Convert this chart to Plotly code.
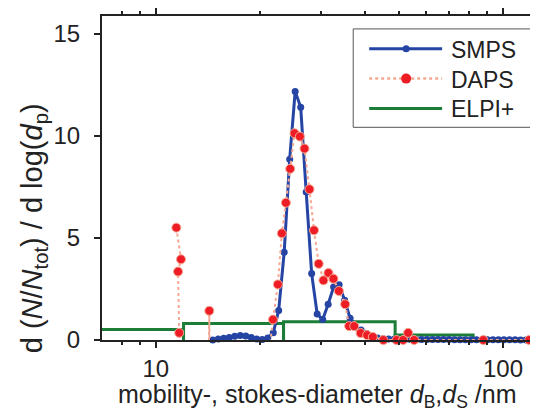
import plotly.graph_objects as go

# ---------------- data ----------------
smps_d = [14.59, 15.13, 15.69, 16.27, 16.88, 17.51, 18.16, 18.83, 19.53, 20.26,
          21.01, 21.79, 22.59, 23.43, 24.30, 25.20, 26.14, 27.11, 28.11, 29.16,
          30.24, 31.36, 32.52, 33.73, 34.98, 36.28, 37.62, 39.02, 40.47, 41.97,
          43.52, 45.14, 46.81, 48.55, 50.35, 52.22, 54.16, 56.17, 58.25, 60.41,
          62.65, 64.98, 67.39, 69.89, 72.48, 75.17, 77.96, 80.85, 83.85, 86.96,
          90.19, 93.53, 97.01, 100.6, 104.4, 108.3, 112.3, 116.5, 120.8, 125.3, 129.9]
smps_v = [0.0, 0.05, 0.08, 0.12, 0.18, 0.22, 0.2, 0.12, 0.05, 0.02,
          0.1, 0.35, 1.45, 4.3, 8.85, 12.17, 11.39, 7.25, 3.25, 1.27,
          1.0, 1.75, 2.6, 2.7, 1.95, 1.07, 0.63, 0.49, 0.32, 0.18,
          0.1, 0.06, 0.05, 0.04, 0.04, 0.03, 0.03, 0.03, 0.02, 0.02,
          0.02, 0.02, 0.02, 0.02, 0.01, 0.01, 0.01, 0.01, 0.01, 0.01,
          0.01, 0.01, 0.01, 0.01, 0.01, 0.01, 0.0, 0.0, 0.0, 0.0, 0.0]

daps_d = [11.46, 11.82, 11.59, 11.68, 11.9, 14.2, 14.26, 14.3, 21.08,
          21.75, 22.47, 23.07, 23.70, 24.38, 25.09, 26.00, 26.81, 27.71, 28.55,
          29.45, 30.40, 31.42, 32.48, 33.67, 35.10, 36.04, 37.26, 38.89, 40.61,
          42.17, 45.23, 49.38, 51.55, 53.29, 55.45, 87.76, 119.0]
daps_v = [5.5, 3.95, 3.35, 0.35, -1.0, -1.0, 1.43, -1.0, -1.0,
          1.0, 2.72, 5.22, 6.72, 8.38, 10.12, 9.96, 9.37, 7.38, 5.37,
          3.73, 2.92, 3.28, 3.0, 2.4, 1.75, 0.68, 0.68, 0.34, 0.24,
          0.15, 0.0, 0.0, 0.0, 0.35, 0.0, 0.0, 0.0]

elpi_edges = [5.0, 12.02, 23.33, 48.90, 82.0, 160.0]
elpi_v = [0.52, 0.81, 0.89, 0.24, 0.05]

series_names = ["SMPS", "DAPS", "ELPI+"]

x_ticks = [10, 100]
x_ticktext = ["10", "100"]
x_minor = [8, 9, 20, 30, 40, 50, 60, 70, 80, 90]
y_ticks = [0, 5, 10, 15]

# ---------------- styles ----------------
FONT = "Arial, Liberation Sans, sans-serif"
INK = "#222222"
BLUE, RED, PINK, GREEN = "#2544a4", "#ee1c25", "#f6a892", "#1b7d38"

# ---------------- build ----------------
ex, ey = [], []
for i, v in enumerate(elpi_v):
    l, r = elpi_edges[i], elpi_edges[i + 1]
    ex += [l, l, r, r, None]
    ey += [0, v, v, 0, None]

fig = go.Figure()
fig.add_trace(go.Scatter(
    x=ex, y=ey, mode="lines", name=series_names[2],
    line=dict(color=GREEN, width=3)))
fig.add_trace(go.Scatter(
    x=smps_d, y=smps_v, mode="lines+markers", name=series_names[0],
    line=dict(color=BLUE, width=3),
    marker=dict(color=BLUE, size=7, opacity=1), cliponaxis=False))
fig.add_trace(go.Scatter(
    x=daps_d, y=daps_v, mode="lines+markers", name=series_names[1],
    line=dict(color=PINK, width=2, dash="dot"),
    marker=dict(color=RED, opacity=1,
                size=[9 if v >= 0 else 0 for v in daps_v]),
    cliponaxis=False))

# page body has an 8 px margin: the figure is drawn 8 px right/down
OFF = 8
L, T, B = 101.5, 14, 74          # plot-area edges in window pixels
W, H = 538 - OFF, 414 - OFF
pw, ph = 538 - L, 340 - T

def px_x(px):
    return (px - L) / pw

def px_y(py):
    return (340 - py) / ph

# ---- legend box (drawn as shapes + text) ----
shapes = [dict(type="rect", xref="paper", yref="paper", layer="above",
               x0=px_x(353), x1=px_x(534), y0=px_y(126), y1=px_y(27),
               line=dict(color="#555555", width=1), fillcolor="white")]
annos = []
rows = [47, 77, 107]
styles = [dict(color=BLUE, width=3, dash="solid", dot=BLUE, r=3.5),
          dict(color=PINK, width=2.5, dash="dot", dot=RED, r=5),
          dict(color=GREEN, width=3, dash="solid", dot=None, r=0)]
for name, ry, st in zip(series_names, rows, styles):
    shapes.append(dict(type="line", xref="paper", yref="paper", layer="above",
                       x0=px_x(369), x1=px_x(442), y0=px_y(ry), y1=px_y(ry),
                       line=dict(color=st["color"], width=st["width"], dash=st["dash"])))
    if st["dot"]:
        shapes.append(dict(type="circle", xref="paper", yref="paper", layer="above",
                           xsizemode="pixel", ysizemode="pixel",
                           xanchor=px_x(406), yanchor=px_y(ry),
                           x0=-st["r"], x1=st["r"], y0=-st["r"], y1=st["r"],
                           fillcolor=st["dot"], line=dict(width=0)))
    annos.append(dict(text=name, xref="paper", yref="paper",
                      x=px_x(449), y=px_y(ry + 1), xanchor="left", yanchor="middle",
                      showarrow=False, font=dict(size=23, color=INK)))

annos += [
    dict(text="mobility-, stokes-diameter <i>d</i><sub>B</sub>,<i>d</i><sub>S</sub> /nm",
         xref="paper", yref="paper", x=px_x(317), y=px_y(396),
         xanchor="center", yanchor="middle", showarrow=False,
         font=dict(size=25, color=INK)),
    dict(text="d (<i>N</i>/<i>N</i><sub>tot</sub>) / d log(<i>d</i><sub>p</sub>)",
         xref="paper", yref="paper", x=px_x(33), y=px_y(228),
         xanchor="center", yanchor="middle", showarrow=False, textangle=-90,
         font=dict(size=29, color=INK)),
]

fig.update_layout(
    width=W, height=H,
    margin=dict(l=L - OFF, r=0, t=T - OFF, b=B, pad=0),
    paper_bgcolor="white", plot_bgcolor="white",
    font=dict(family=FONT, size=22, color=INK),
    showlegend=False,
    xaxis=dict(type="log", range=[0.8451, 2.1007],
               tickmode="array", tickvals=x_ticks, ticktext=x_ticktext,
               ticks="outside", ticklen=6, tickwidth=2, tickcolor=INK,
               showline=True, linecolor=INK, linewidth=2, mirror="ticks",
               showgrid=False, zeroline=False,
               minor=dict(tickmode="array", tickvals=x_minor, ticks="outside",
                          ticklen=3, tickwidth=2, tickcolor=INK, showgrid=False),
               tickfont=dict(size=24)),
    yaxis=dict(range=[0, 15.86], tickmode="array", tickvals=y_ticks,
               ticks="outside", ticklen=6, tickwidth=2, tickcolor=INK,
               showline=True, linecolor=INK, linewidth=2,
               showgrid=False, zeroline=False, tickfont=dict(size=24),
               ticklabelstandoff=9),
    shapes=shapes,
    annotations=annos,
)

fig.write_html("out.html")
